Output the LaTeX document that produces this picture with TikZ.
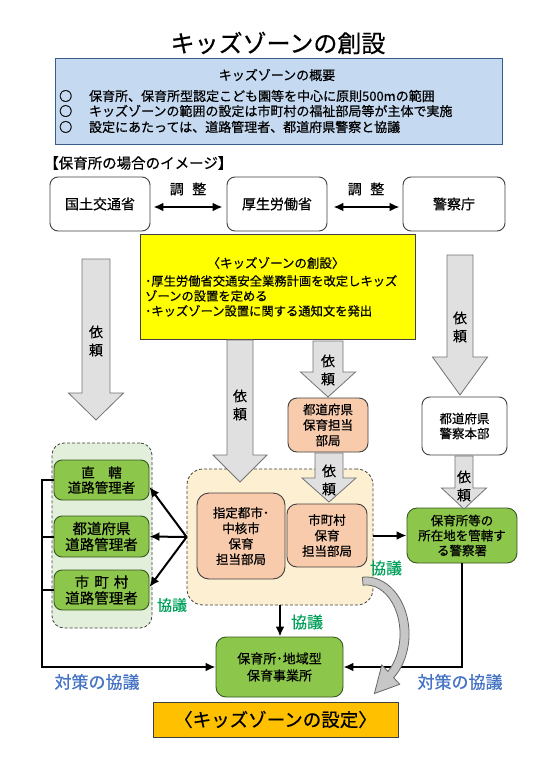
\documentclass[tikz,border=0pt]{standalone}
\usepackage{fontspec}
\setmainfont{Noto Sans CJK JP}[FakeBold=0.5]
\usetikzlibrary{arrows.meta,calc}
\definecolor{ovblue}{RGB}{197,217,241}
\definecolor{ovborder}{RGB}{56,93,138}
\definecolor{ylw}{RGB}{255,255,0}
\definecolor{peach}{RGB}{248,203,173}
\definecolor{peachbg}{RGB}{253,240,210}
\definecolor{grn}{RGB}{140,198,74}
\definecolor{grnb}{RGB}{56,87,35}
\definecolor{grnbg}{RGB}{226,239,218}
\definecolor{orng}{RGB}{255,192,0}
\definecolor{kyogi}{RGB}{0,160,90}
\definecolor{taisaku}{RGB}{68,114,196}
\definecolor{arrgray}{RGB}{224,224,224}
\definecolor{bord}{RGB}{64,64,64}
\newcommand\FS[2]{\fontsize{#1}{#2}\selectfont}
\newcommand\BlkArrow[6]{%
 \filldraw[blockarrow] ({#1-#4},#2) -- ({#1+#4},#2) -- ({#1+#4},{#3-#6}) -- ({#1+#5},{#3-#6}) -- (#1,#3) -- ({#1-#5},{#3-#6}) -- ({#1-#4},{#3-#6}) -- cycle;}
\begin{document}
\begin{tikzpicture}[x=1pt,y=-1pt,
  box/.style={draw=bord,line width=0.9pt,rounded corners=8pt,align=center,inner sep=0pt},
  gbox/.style={box,fill=grn,draw=grnb},
  pbox/.style={box,fill=peach},
  blockarrow/.style={fill=arrgray,draw=black!55,line width=0.8pt},
  conn/.style={line width=2pt,-{Latex[length=10pt,width=9pt]}},
  plain/.style={line width=2pt},
  dbl/.style={line width=2pt,{Latex[length=10pt,width=9pt]}-{Latex[length=10pt,width=9pt]}},
  lbl/.style={inner sep=0pt,align=center},
  kyo/.style={lbl,text=kyogi,font=\FS{15}{18}},
  tai/.style={lbl,text=taisaku,font=\FS{17}{20}},
  dashbox/.style={draw=bord,line width=0.8pt,dash pattern=on 3pt off 2pt,inner sep=0pt},
  curvearr/.style={fill=black!22,draw=black!60,line width=0.8pt},
]
\fill[white] (0,0) rectangle (543,768);
\useasboundingbox (0,0) rectangle (543,768);

% title and overview
\node[lbl,font=\FS{24}{28}] (title) at (278,43) {キッズゾーンの創設};
\node[draw=ovborder,fill=ovblue,line width=1pt,minimum width=447pt,minimum height=85pt,inner sep=0pt] (ov) at (278.5,101.5) {};
\node[lbl,font=\FS{13}{15}] (ovh) at (277,75) {キッズゾーンの概要};
\node[lbl,font=\FS{13}{15},anchor=west] (ov1) at (59,96) {○\hspace{1.3em}保育所、保育所型認定こども園等を中心に原則500mの範囲};
\node[lbl,font=\FS{13}{15},anchor=west] (ov2) at (59,111) {○\hspace{1.3em}キッズゾーンの範囲の設定は市町村の福祉部局等が主体で実施};
\node[lbl,font=\FS{13}{15},anchor=west] (ov3) at (59,127) {○\hspace{1.3em}設定にあたっては、道路管理者、都道府県警察と協議};

\node[lbl,font=\FS{14.5}{17},anchor=west] (img) at (44,163) {【保育所の場合のイメージ】};

% ministries
\node[box,minimum width=100pt,minimum height=54pt,font=\FS{14}{17}] (mlit) at (100,204) {国土交通省};
\node[box,minimum width=100pt,minimum height=54pt,font=\FS{14}{17}] (mhlw) at (277,204) {厚生労働省};
\node[box,minimum width=102pt,minimum height=54pt,font=\FS{14}{17}] (npa) at (454,204) {警察庁};
\draw[dbl] ([xshift=3pt,yshift=-3pt]mlit.east) -- ([xshift=-4pt,yshift=-3pt]mhlw.west);
\draw[dbl] ([xshift=6pt,yshift=-3pt]mhlw.east) -- ([xshift=-3pt,yshift=-3pt]npa.west);
\node[lbl,font=\FS{14}{17}] (adj1) at (188,189) {調\hspace{0.6em}整};
\node[lbl,font=\FS{14}{17}] (adj2) at (366,189) {調\hspace{0.6em}整};

% yellow box
\node[draw=bord,fill=ylw,line width=0.8pt,minimum width=275pt,minimum height=105pt,inner sep=0pt] (yb) at (277.5,286.5) {};
\node[lbl,font=\FS{12.5}{15}] (ybt) at (276,263) {〈キッズゾーンの創設〉};
\node[lbl,font=\FS{12.3}{15},anchor=north west,align=left] (ybl) at (145,275) {･厚生労働省交通安全業務計画を改定しキッズ\\ゾーンの設置を定める\\･キッズゾーン設置に関する通知文を発出};

% left container
\node[dashbox,fill=grnbg,rounded corners=12pt,minimum width=100pt,minimum height=185pt] (lc) at (102,535.5) {};
\node[gbox,minimum width=95pt,minimum height=40pt,font=\FS{13.5}{15}] (g1) at (101.5,480) {直\hspace{1em}轄\\道路管理者};
\node[gbox,minimum width=95pt,minimum height=41pt,font=\FS{14.5}{16}] (g2) at (101.5,536.5) {都道府県\\道路管理者};
\node[gbox,minimum width=95pt,minimum height=40pt,font=\FS{14.5}{16}] (g3) at (101.5,590) {市\hspace{0.35em}町\hspace{0.35em}村\\道路管理者};

% central container
\node[dashbox,fill=peachbg,rounded corners=16pt,minimum width=186pt,minimum height=136pt] (pc) at (280,537) {};
\node[pbox,rounded corners=12pt,minimum width=88pt,minimum height=86pt,font=\FS{12.5}{15.5}] (cityA) at (241,536) {指定都市･\\中核市\\保育\\担当部局};
\node[pbox,rounded corners=10pt,minimum width=80pt,minimum height=63pt,font=\FS{12.5}{15.5}] (cityB) at (327,535.5) {市町村\\保育\\担当部局};
\node[pbox,rounded corners=9pt,minimum width=80pt,minimum height=54pt,font=\FS{12.5}{15.5}] (pref) at (328,425) {都道府県\\保育担当\\部局};

% police
\node[box,minimum width=85pt,minimum height=58pt,font=\FS{12.5}{15}] (phq) at (464.5,426) {都道府県\\警察本部};
\node[gbox,rounded corners=10pt,minimum width=110pt,minimum height=55pt,font=\FS{12.5}{15}] (ps) at (462,535.5) {保育所等の\\所在地を管轄す\\る警察署};

% nursery and result
\node[gbox,rounded corners=10pt,minimum width=127pt,minimum height=60pt,font=\FS{13}{17}] (nur) at (279.5,667) {保育所･地域型\\保育事業所};
\node[draw=bord,fill=orng,line width=0.8pt,minimum width=245pt,minimum height=35pt,inner sep=0pt,font=\FS{18.5}{20}] (set) at (275.5,719.5) {〈キッズゾーンの設定〉};

% block arrows
\BlkArrow{96}{259}{420}{14}{27.5}{27}
\node[lbl,font=\FS{14}{18}] (ir1) at (96,341) {依\\頼};
\BlkArrow{240}{340}{482}{13}{27}{27}
\node[lbl,font=\FS{14}{18}] (ir2) at (240,405) {依\\頼};
\BlkArrow{328}{341}{397}{15}{27.5}{25}
\node[lbl,font=\FS{14}{18}] (ir3) at (328,370) {依\\頼};
\BlkArrow{329}{453}{502}{14}{27}{24}
\node[lbl,font=\FS{14}{18}] (ir4) at (329,480) {依\\頼};
\BlkArrow{460}{255}{395}{13}{27.5}{38}
\node[lbl,font=\FS{14}{18}] (ir5) at (460,327) {依\\頼};
\BlkArrow{464}{456}{509}{9}{22.5}{21}
\node[lbl,font=\FS{14}{18}] (ir6) at (464,486) {依\\頼};

% connectors
\draw[conn] (pc.east |- ps.west) -- (ps.west);
\draw[conn] (pc.west) -- ([yshift=-7pt]g1.east);
\draw[conn] (pc.west) -- (g2.east);
\draw[conn] (pc.west) -- ([yshift=3pt]g3.east);
\coordinate (lbar) at (42,480);
\draw[plain] (g1.west) -- (g1.west -| lbar);
\draw[plain] (g2.west) -- (g2.west -| lbar);
\draw[plain] (g3.west) -- (g3.west -| lbar);
\draw[conn] ([yshift=1pt]g1.west -| lbar) |- (nur.west);
\draw[conn] (ps.south) |- (nur.east);
\draw[conn] (pc.south) -- (pc.south |- nur.north);

% curved arrow
\filldraw[curvearr] (362.3,577.2) arc[start angle=-95,end angle=50,x radius=43,y radius=57] -- (399.7,684.3) -- (374.4,693.5) -- (381.8,664.9) -- (387.9,671.5) arc[start angle=50,end angle=-95,x radius=34,y radius=49] -- cycle;

% labels
\node[kyo] (k1) at (172,605) {協議};
\node[kyo,font=\FS{16}{18}] (k2) at (307,622) {協議};
\node[kyo,font=\FS{16}{18}] (k3) at (386,568) {協議};
\node[tai] (t1) at (97,682) {対策の協議};
\node[tai] (t2) at (460,682) {対策の協議};
\end{tikzpicture}
\end{document}
